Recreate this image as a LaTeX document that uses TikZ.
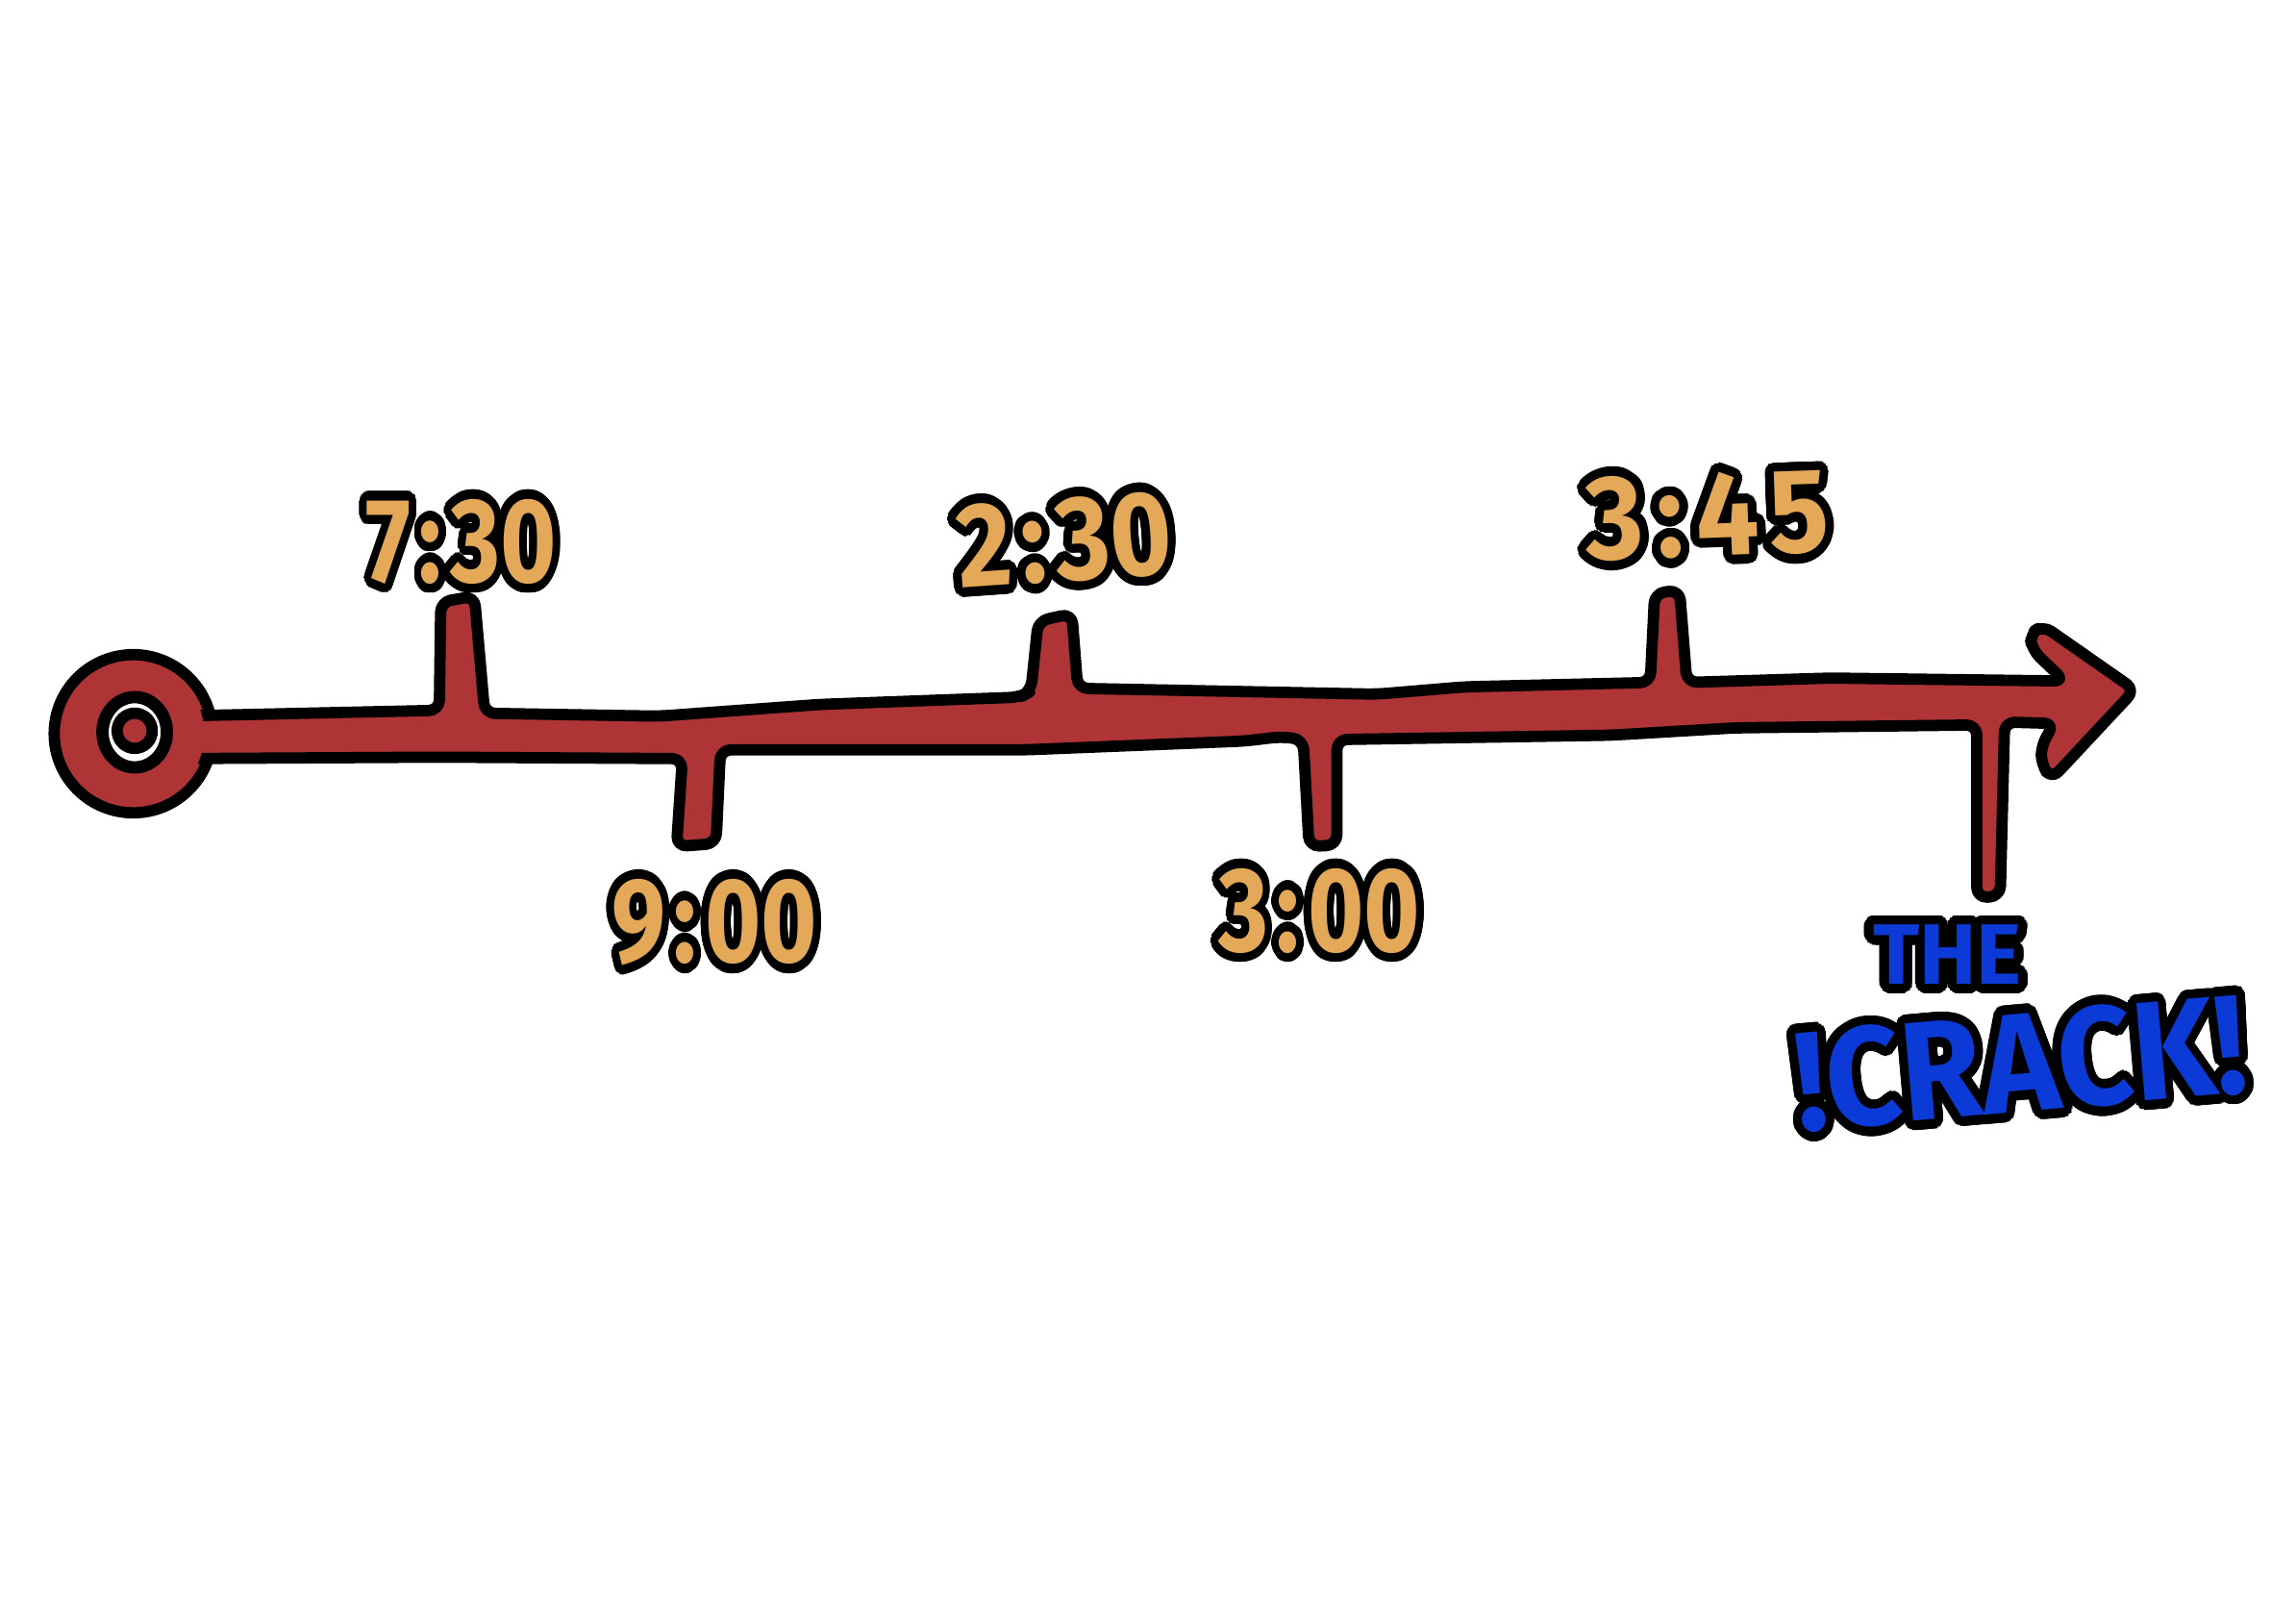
\documentclass[tikz,border=0pt]{standalone}
\usepackage{fontspec}
\setmainfont{Fira Sans}
\usepackage{contour}
\contourlength{2.7pt}
\contournumber{32}
\usepackage{graphicx}
\definecolor{barred}{RGB}{174,52,54}
\definecolor{numor}{RGB}{227,169,88}
\definecolor{crackblue}{RGB}{12,58,214}
\begin{document}
\begin{tikzpicture}[x=0.015cm,y=-0.015cm,
  outl/.style={line width=3.3pt, line join=round, line cap=round, draw=black},
  numlab/.style={text=numor, inner sep=0pt, font=\fontsize{35}{35}\selectfont\bfseries},
  blulab/.style={text=crackblue, inner sep=0pt, font=\fontsize{41}{41}\selectfont\bfseries}]
\useasboundingbox (0,0) rectangle (1568,1095);
\fill[white] (0,0) rectangle (1568,1095);
% start circle
\filldraw[fill=barred, outl] (91,501) circle [radius=54];
% bar with ticks and arrow head
\filldraw[fill=barred, outl, rounded corners=3]
  (118,489) -- (300,485) -- (301,411) -- (324,407) -- (331,487)
  -- (450,489) -- (560,481) -- (697,476) -- (704,472) -- (709,424)
  -- (732,419) -- (736,470) -- (940,474) -- (1000,469) -- (1127,466)
  -- (1130,405) -- (1147,403) -- (1152,466) -- (1250,463) -- (1410,465)
  -- (1388,444) -- (1386,433) -- (1395,427) -- (1458,471) -- (1401,532)
  -- (1394,522) -- (1394,509) -- (1403,494) -- (1369,493) -- (1366,612)
  -- (1350,613) -- (1350,495) -- (1185,497) -- (1100,502) -- (913,505)
  -- (913,577) -- (894,578) -- (890,505) -- (875,503) -- (850,506)
  -- (700,512) -- (492,512) -- (489,576) -- (462,578) -- (466,518)
  -- (300,517) -- (118,518) -- cycle;
\fill[barred] (91,501) circle [radius=48.5];
% inner rings
\filldraw[fill=white, outl, line width=3.6pt] (92,500) ellipse [x radius=22, y radius=24];
\filldraw[fill=barred, outl] (92,499) circle [radius=12];
% labels
\node[numlab] (t730) at (315,373) {\scalebox{0.8}[1]{\contour{black}{7\kern3pt:\kern3pt30}}};
\node[numlab, rotate=4] (t230) at (727,372) {\scalebox{0.88}[1]{\contour{black}{2\kern3pt:\kern3pt30}}};
\node[numlab, rotate=2] (t345) at (1166,355) {\scalebox{0.93}[1]{\contour{black}{3\kern4pt:\kern4pt4\kern3pt5}}};
\node[numlab] (t900) at (488,633) {\scalebox{0.8}[1]{\contour{black}{9\kern3pt:\kern3pt00}}};
\node[numlab] (t300) at (901,625) {\scalebox{0.8}[1]{\contour{black}{3\kern3pt:\kern3pt00}}};
\node[blulab, font=\fontsize{25}{25}\selectfont\bfseries] (the) at (1330,655) {\contour{black}{THE}};
\node[blulab, rotate=5] (crack) at (1380,729) {\scalebox{0.93}[1]{\contour{black}{!CRACK!}}};
\end{tikzpicture}
\end{document}
